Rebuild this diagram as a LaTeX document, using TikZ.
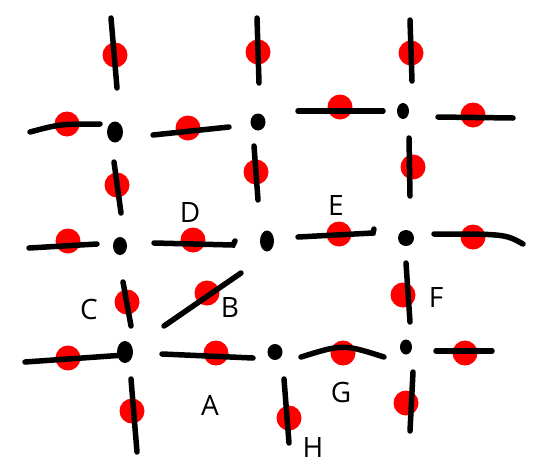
\documentclass[tikz,border=0pt]{standalone}
\usepackage{fontspec}
\setsansfont{Open Sans}
\usetikzlibrary{shapes.geometric}
\begin{document}
\begin{tikzpicture}[x=1pt,y=-1pt,
  seg/.style={line width=5.5pt, line cap=round, black},
  rdot/.style={circle, fill=red, inner sep=0pt, minimum size=25pt},
  bdot/.style={ellipse, fill=black, inner sep=0pt, minimum width=14pt, minimum height=18pt},
  lbl/.style={font=\sffamily\fontsize{28}{28}\selectfont, inner sep=0pt}]
\useasboundingbox[fill=white] (0,0) rectangle (546,472);
% red dots
\node[rdot] (r1) at (115,55) {};
\node[rdot] (r2) at (258,52) {};
\node[rdot] (r3) at (411,53) {};
\node[rdot] (r4) at (67,124) {};
\node[rdot] (r5) at (188,128) {};
\node[rdot] (r6) at (340,107) {};
\node[rdot] (r7) at (473,115) {};
\node[rdot] (r8) at (117,185) {};
\node[rdot] (r9) at (256,172) {};
\node[rdot] (r10) at (413,167) {};
\node[rdot] (r11) at (68,241) {};
\node[rdot] (r12) at (193,240) {};
\node[rdot] (r13) at (339,234) {};
\node[rdot] (r14) at (473,237) {};
\node[rdot] (r15) at (127,302) {};
\node[rdot] (r16) at (207,293) {};
\node[rdot] (r17) at (403,295) {};
\node[rdot] (r18) at (68,358) {};
\node[rdot] (r19) at (216,353) {};
\node[rdot] (r20) at (343,353) {};
\node[rdot] (r21) at (465,353) {};
\node[rdot] (r22) at (132,411) {};
\node[rdot] (r23) at (289,418) {};
\node[rdot] (r24) at (406,403) {};
% strokes
\draw[seg] (111,18) -- (117,88);
\draw[seg] (257,18) -- (259,83);
\draw[seg] (410,20) -- (412,81);
\draw[seg] (30,132) .. controls (60,124) .. (100,124);
\draw[seg] (153,135) -- (229,127);
\draw[seg] (298,111) -- (383,111);
\draw[seg] (438,117) -- (513,118);
\draw[seg] (114,162) -- (121,213);
\draw[seg] (254,146) -- (258,200);
\draw[seg] (409,138) -- (410,196);
\draw[seg] (29,248) -- (97,244);
\draw[seg] (154,243) -- (233,245) -- (235,241);
\draw[seg] (298,237) -- (373,233) -- (374,229);
\draw[seg] (434,234) .. controls (505,234) .. (523,244);
\draw[seg] (123,282) -- (131,326);
\draw[seg] (164,326) -- (241,273);
\draw[seg] (406,263) -- (410,322);
\draw[seg] (25,362) -- (125,355);
\draw[seg] (162,354) -- (253,358);
\draw[seg] (301,357) .. controls (343,344) .. (384,357);
\draw[seg] (436,351) -- (492,351);
\draw[seg] (131,379) -- (137,452);
\draw[seg] (284,379) -- (289,443);
\draw[seg] (413,372) -- (410,431);
% black dots
\node[bdot, minimum width=16pt, minimum height=21pt] (d11) at (115,132) {};
\node[bdot, minimum width=15pt, minimum height=17pt] (d12) at (258,122) {};
\node[bdot, minimum width=12pt, minimum height=16pt] (d13) at (403,111) {};
\node[bdot] (d21) at (120,246) {};
\node[bdot, minimum width=14pt, minimum height=21pt] (d22) at (267,241) {};
\node[bdot, minimum width=16pt, minimum height=16pt] (d23) at (406,238) {};
\node[bdot, minimum width=16pt, minimum height=22pt] (d31) at (125,352) {};
\node[bdot, minimum width=15pt, minimum height=16pt] (d32) at (275,352) {};
\node[bdot, minimum width=12pt, minimum height=15pt] (d33) at (406,347) {};
% labels
\node[lbl] (lD) at (190,212) {D};
\node[lbl] (lE) at (336,205) {E};
\node[lbl] (lC) at (89,309) {C};
\node[lbl] (lB) at (230,307) {B};
\node[lbl] (lF) at (436,297) {F};
\node[lbl] (lA) at (210,405) {A};
\node[lbl] (lG) at (341,392) {G};
\node[lbl] (lH) at (313,447) {H};
\end{tikzpicture}
\end{document}
